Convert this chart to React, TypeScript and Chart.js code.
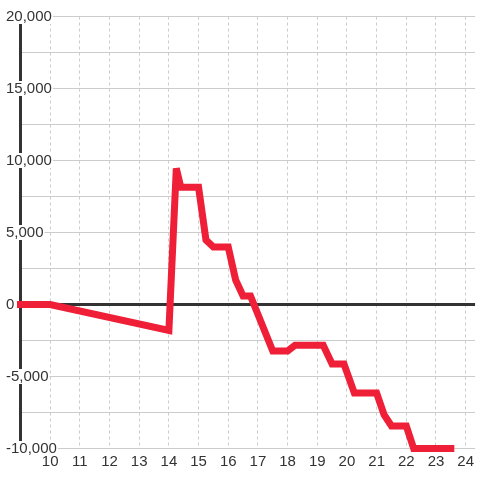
import React, { useEffect, useRef } from "react";
import { Chart, registerables } from "chart.js";

Chart.register(...registerables);

// Data
const xValues = [9, 10, 14, 14.25, 14.4, 15, 15.25, 15.5, 16, 16.25, 16.5, 16.75, 17.5, 18, 18.25, 19.2, 19.5, 19.9, 20.25, 21, 21.25, 21.5, 22, 22.25, 23.5];
const yValues = [0, 0, -1800, 9450, 8150, 8150, 4480, 3990, 3990, 1700, 590, 590, -3230, -3230, -2830, -2830, -4130, -4130, -6150, -6150, -7650, -8440, -8440, -10000, -10000];

const xTickValues = [10, 11, 12, 13, 14, 15, 16, 17, 18, 19, 20, 21, 22, 23, 24];
const yTickValues = [-10000, -7500, -5000, -2500, 0, 2500, 5000, 7500, 10000, 12500, 15000, 17500, 20000];
const yLabelledValues = [-10000, -5000, 0, 5000, 10000, 15000, 20000];

const BG = "#ffffff";
const RED = "#ee1f36";
const DARK = "#333333";
const GRID = "#cccccc";
const FONT = { family: "'Liberation Sans', Arial, sans-serif", size: 15, lineHeight: 1 };

const bgPlugin = {
  id: "bg",
  beforeDraw(chart: any) {
    const ctx = chart.ctx;
    ctx.save();
    ctx.fillStyle = BG;
    ctx.fillRect(0, 0, chart.width, chart.height);
    ctx.restore();
  },
  beforeDatasetsDraw(chart: any) {
    chart.ctx.save();
    chart.ctx.miterLimit = 2;
  },
  afterDatasetsDraw(chart: any) {
    chart.ctx.restore();
  },
};

export default function App() {
  const ref = useRef<HTMLCanvasElement>(null);

  useEffect(() => {
    if (!ref.current) return;
    const data = xValues.map((x, i) => ({ x, y: yValues[i] }));
    const chart = new Chart(ref.current, {
      type: "line",
      data: {
        datasets: [
          {
            data,
            borderColor: RED,
            borderWidth: 7,
            pointRadius: 0,
            tension: 0,
            borderCapStyle: "square",
            borderJoinStyle: "miter",
            clip: false,
          } as any,
        ],
      },
      plugins: [bgPlugin],
      options: {
        animation: false,
        responsive: false,
        devicePixelRatio: 1,
        events: [],
        layout: { padding: { top: 16.5, left: 6, right: 0, bottom: 0 } },
        plugins: { legend: { display: false }, tooltip: { enabled: false } },
        scales: {
          x: {
            type: "linear",
            min: 9,
            max: 9 + 459.5 / 30,
            afterBuildTicks: (scale: any) => {
              scale.ticks = xTickValues.map((v) => ({ value: v }));
            },
            afterFit: (scale: any) => {
              scale.height = 31.5;
            },
            grid: {
              color: GRID,
              lineWidth: 1,
              drawTicks: false,
            },
            border: { display: false, dash: [3, 3] } as any,
            ticks: {
              color: DARK,
              font: FONT,
              padding: 6,
              maxRotation: 0,
              autoSkip: false,
              callback: (v: any) => String(v),
            },
          },
          y: {
            type: "linear",
            min: -10000,
            max: 20000,
            afterBuildTicks: (scale: any) => {
              scale.ticks = yTickValues.map((v) => ({ value: v }));
            },
            afterFit: (scale: any) => {
              scale.width = 14.5;
            },
            grid: {
              color: (ctx: any) => (ctx.tick && ctx.tick.value === 0 ? DARK : GRID),
              lineWidth: (ctx: any) => (ctx.tick && ctx.tick.value === 0 ? 3 : 1),
              drawTicks: false,
            },
            border: { display: true, color: DARK, width: 3 },
            ticks: {
              color: DARK,
              font: FONT,
              mirror: true,
              padding: -14.5,
              crossAlign: "near",
              autoSkip: false,
              showLabelBackdrop: (ctx: any) => yLabelledValues.includes(ctx.tick && ctx.tick.value),
              backdropColor: BG,
              backdropPadding: { top: 0, bottom: 0, left: 0, right: 1 },
              callback: (v: any) => (yLabelledValues.includes(v) ? Number(v).toLocaleString("en-US") : ""),
            } as any,
          },
        },
      },
    });
    return () => chart.destroy();
  }, []);

  return (
    <div style={{ position: "absolute", left: 0, top: 0, width: 480, height: 480 }}>
      <canvas ref={ref} width={480} height={480} style={{ display: "block" }} />
    </div>
  );
}
